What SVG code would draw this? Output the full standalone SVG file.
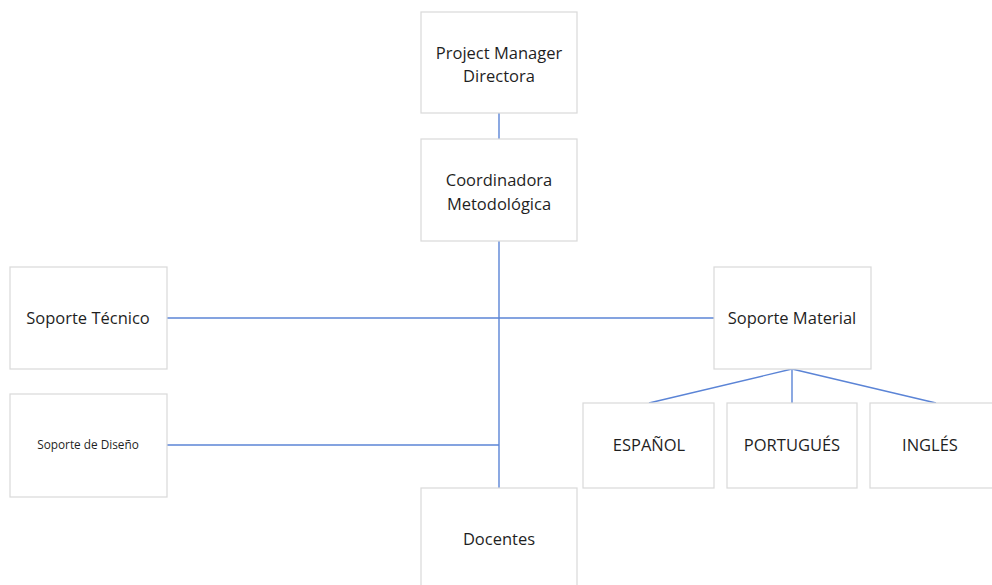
<svg xmlns="http://www.w3.org/2000/svg" width="992" height="585" viewBox="0 0 992 585">
<style>
.box{fill:#ffffff;stroke:#d9d9d9;stroke-width:1.2}
.t{font-family:"Open Sans","Noto Sans",sans-serif;font-size:16.5px;fill:#1f1f1f;text-anchor:middle}
.s{font-size:11.8px}
.c line{stroke:#5b84d6;stroke-width:1.4}
</style>
<rect width="992" height="585" fill="#ffffff"/>
<g class="c" id="connectors">
<line x1="499" y1="113" x2="499" y2="139"/>
<line x1="499" y1="241" x2="499" y2="488"/>
<line x1="167" y1="318" x2="714" y2="318"/>
<line x1="167" y1="445" x2="499" y2="445"/>
<line x1="792" y1="369" x2="649" y2="403"/>
<line x1="792" y1="369" x2="792" y2="403"/>
<line x1="792" y1="369" x2="936" y2="403"/>
</g>
<g id="pm"><rect class="box" x="421" y="12" width="156" height="101"/><text class="t" x="499" y="59">Project Manager</text><text class="t" x="499" y="82">Directora</text></g>
<g id="coord"><rect class="box" x="421" y="139" width="156" height="102"/><text class="t" x="499" y="186">Coordinadora</text><text class="t" x="499" y="210">Metodológica</text></g>
<g id="tecnico"><rect class="box" x="10" y="267" width="157" height="102"/><text class="t" x="88" y="324">Soporte Técnico</text></g>
<g id="diseno"><rect class="box" x="10" y="394" width="157" height="103"/><text class="t s" x="88" y="449">Soporte de Diseño</text></g>
<g id="material"><rect class="box" x="714" y="267" width="157" height="102"/><text class="t" x="792" y="324">Soporte Material</text></g>
<g id="espanol"><rect class="box" x="583" y="403" width="131" height="85"/><text class="t" x="649" y="451">ESPAÑOL</text></g>
<g id="portugues"><rect class="box" x="727" y="403" width="130" height="85"/><text class="t" x="792" y="451">PORTUGUÉS</text></g>
<g id="ingles"><rect class="box" x="870" y="403" width="130" height="85"/><text class="t" x="930" y="451">INGLÉS</text></g>
<g id="docentes"><rect class="box" x="421" y="488" width="156" height="110"/><text class="t" x="499" y="545">Docentes</text></g>
</svg>
